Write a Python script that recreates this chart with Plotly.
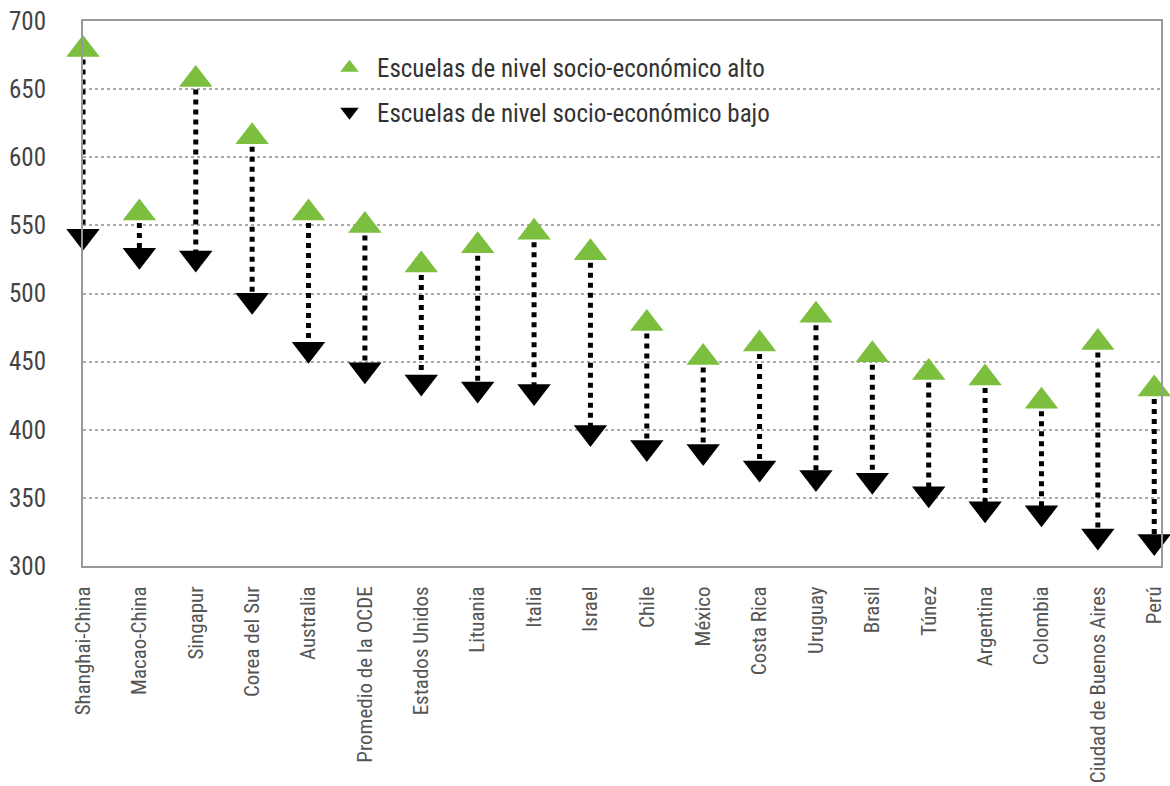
import plotly.graph_objects as go

categories = ["Shanghai-China", "Macao-China", "Singapur", "Corea del Sur", "Australia",
              "Promedio de la OCDE", "Estados Unidos", "Lituania", "Italia", "Israel",
              "Chile", "México", "Costa Rica", "Uruguay", "Brasil", "Túnez",
              "Argentina", "Colombia", "Ciudad de Buenos Aires", "Perú"]
alto = [679, 559, 657, 615, 559, 550, 521, 535, 545, 530,
        478, 453, 463, 484, 455, 442, 438, 421, 464, 430]
bajo = [542, 528, 526, 495, 459, 444, 435, 430, 428, 398,
        387, 384, 372, 365, 363, 353, 342, 339, 322, 318]
y_ticks = [300, 350, 400, 450, 500, 550, 600, 650, 700]

idx = list(range(len(categories)))

lx, ly = [], []
for i, a, b in zip(idx, alto, bajo):
    lx += [i, i, None]
    ly += [a, b, None]

FONT = "Liberation Sans Narrow, Roboto Condensed, Roboto, sans-serif"
GREEN = "#7cbf3f"

fig = go.Figure()
fig.add_trace(go.Scatter(x=lx, y=ly, mode="lines", showlegend=False, hoverinfo="skip",
                         line=dict(color="black", width=5, dash="dot"), cliponaxis=False))
fig.add_trace(go.Scatter(x=idx, y=alto, mode="markers", name="Escuelas de nivel socio-económico alto",
                         marker=dict(symbol="triangle-up", size=29, color=GREEN),
                         cliponaxis=False, legend="legend"))
fig.add_trace(go.Scatter(x=idx, y=bajo, mode="markers", name="Escuelas de nivel socio-económico bajo",
                         marker=dict(symbol="triangle-down", size=29, color="black"),
                         cliponaxis=False, legend="legend2"))

fig.update_layout(
    width=1170, height=786,
    margin=dict(l=83, r=9, t=21, b=220, autoexpand=False),
    paper_bgcolor="white", plot_bgcolor="white",
    font=dict(family=FONT, color="#444"),
    legend=dict(x=0.2217, y=0.9138, xanchor="left", yanchor="middle", itemwidth=45,
                bgcolor="rgba(0,0,0,0)", font=dict(size=25, color="#333", family=FONT)),
    legend2=dict(x=0.2217, y=0.833, xanchor="left", yanchor="middle", itemwidth=45,
                 bgcolor="rgba(0,0,0,0)", font=dict(size=25, color="#333", family=FONT)),
    xaxis=dict(range=[0, 19.12], tickmode="array", tickvals=idx, ticktext=categories,
               tickangle=-90, tickfont=dict(size=21, color="#555"), automargin=False,
               ticklabeloverflow="allow",
               showgrid=False, zeroline=False, showline=True, linecolor="#999",
               linewidth=2, mirror=True, ticks="", ticklabelstandoff=10),
    yaxis=dict(range=[300, 700], tickmode="array", tickvals=y_ticks,
               tickfont=dict(size=25, color="#444"), automargin=False,
               ticklabeloverflow="allow",
               showgrid=True, gridcolor="#aaa", gridwidth=2, griddash="dot",
               zeroline=False, showline=True, linecolor="#999", linewidth=2,
               mirror=True, ticks="", ticklabelstandoff=30),
)

fig.write_html("out.html")
